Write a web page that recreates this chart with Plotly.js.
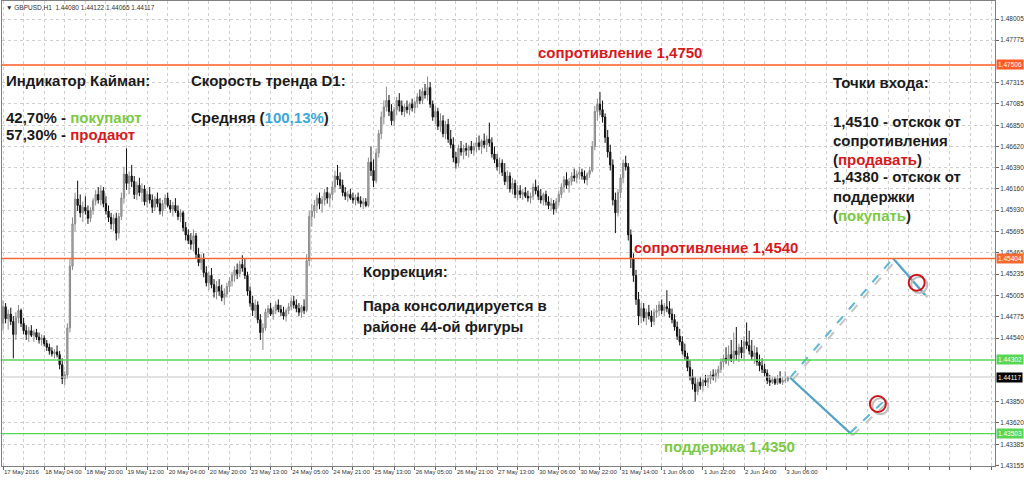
<!DOCTYPE html>
<html><head><meta charset="utf-8">
<script src="https://cdn.plot.ly/plotly-3.0.1.min.js"></script>
<style>html,body{margin:0;padding:0;background:#fff}#c{width:1024px;height:482px}</style>
</head><body><div id="c"></div>
<script>
// ---- DATA (GBPUSD H1) ----
const symbol = 'GBPUSD,H1';
const open = [
1.4470,1.4488,1.4475,1.4480,1.4472,1.4458,1.4476,1.4484,1.4470,1.4462,
1.4458,1.4462,1.4457,1.4460,1.4455,1.4452,1.4454,1.4448,1.4444,1.4440,
1.4437,1.4439,1.4436,1.4425,1.4410,1.4414,1.4465,1.4532,1.4578,1.4605,
1.4598,1.4590,1.4596,1.4592,1.4584,1.4593,1.4603,1.4610,1.4604,1.4614,
1.4600,1.4592,1.4585,1.4578,1.4584,1.4568,1.4586,1.4606,1.4632,1.4622,
1.4630,1.4624,1.4610,1.4620,1.4612,1.4616,1.4602,1.4610,1.4604,1.4596,
1.4605,1.4600,1.4592,1.4600,1.4606,1.4598,1.4594,1.4598,1.4592,1.4586,
1.4590,1.4574,1.4566,1.4560,1.4556,1.4565,1.4545,1.4536,1.4540,1.4525,
1.4514,1.4522,1.4512,1.4504,1.4510,1.4505,1.4498,1.4502,1.4510,1.4516,
1.4522,1.4528,1.4524,1.4534,1.4530,1.4522,1.4505,1.4492,1.4484,1.4490,
1.4474,1.4460,1.4465,1.4482,1.4486,1.4480,1.4484,1.4490,1.4485,1.4482,
1.4478,1.4484,1.4488,1.4494,1.4490,1.4486,1.4482,1.4488,1.4484,1.4538,
1.4586,1.4592,1.4598,1.4606,1.4600,1.4604,1.4612,1.4606,1.4610,1.4618,
1.4630,1.4626,1.4620,1.4612,1.4608,1.4610,1.4606,1.4604,1.4607,1.4603,
1.4600,1.4602,1.4598,1.4645,1.4636,1.4625,1.4655,1.4676,1.4694,1.4705,
1.4712,1.4700,1.4690,1.4702,1.4712,1.4706,1.4700,1.4705,1.4702,1.4708,
1.4704,1.4710,1.4716,1.4712,1.4722,1.4718,1.4726,1.4708,1.4694,1.4700,
1.4684,1.4690,1.4676,1.4686,1.4670,1.4664,1.4650,1.4644,1.4660,1.4656,
1.4660,1.4658,1.4662,1.4658,1.4662,1.4666,1.4662,1.4668,1.4664,1.4670,
1.4666,1.4654,1.4648,1.4640,1.4644,1.4634,1.4624,1.4630,1.4616,1.4622,
1.4610,1.4614,1.4610,1.4612,1.4608,1.4606,1.4608,1.4618,1.4614,1.4608,
1.4604,1.4610,1.4602,1.4598,1.4600,1.4594,1.4602,1.4610,1.4618,1.4626,
1.4620,1.4624,1.4630,1.4628,1.4632,1.4634,1.4630,1.4626,1.4632,1.4636,
1.4662,1.4700,1.4708,1.4702,1.4694,1.4672,1.4656,1.4642,1.4604,1.4590,
1.4612,1.4628,1.4644,1.4640,1.4566,1.4540,1.4522,1.4496,1.4478,1.4486,
1.4476,1.4482,1.4478,1.4472,1.4482,1.4484,1.4490,1.4484,1.4488,1.4486,
1.4480,1.4474,1.4466,1.4456,1.4450,1.4440,1.4434,1.4422,1.4412,1.4404,
1.4396,1.4406,1.4402,1.4408,1.4406,1.4410,1.4414,1.4412,1.4416,1.4420,
1.4428,1.4432,1.4430,1.4436,1.4432,1.4440,1.4436,1.4444,1.4438,1.4450,
1.4446,1.4440,1.4434,1.4438,1.4428,1.4424,1.4420,1.4416,1.4408,1.4406,
1.4409,1.4405,1.4410,1.4406,1.4408,1.44080];
const high = [
1.4495,1.4492,1.4485,1.4487,1.4478,1.4482,1.4490,1.4486,1.4476,1.4468,
1.4466,1.4468,1.4463,1.4464,1.4460,1.4458,1.4457,1.4452,1.4448,1.4444,
1.4442,1.4446,1.4440,1.4432,1.4418,1.4470,1.4540,1.4585,1.4612,1.4625,
1.4610,1.4602,1.4608,1.4598,1.4596,1.4606,1.4615,1.4618,1.4620,1.4618,
1.4608,1.4598,1.4590,1.4588,1.4590,1.4590,1.4612,1.4640,1.4660,1.4635,
1.4642,1.4630,1.4624,1.4628,1.4622,1.4620,1.4614,1.4618,1.4610,1.4608,
1.4612,1.4606,1.4604,1.4610,1.4612,1.4604,1.4602,1.4606,1.4598,1.4594,
1.4592,1.4580,1.4572,1.4568,1.4572,1.4568,1.4552,1.4545,1.4546,1.4532,
1.4526,1.4530,1.4518,1.4516,1.4518,1.4512,1.4508,1.4514,1.4520,1.4526,
1.4532,1.4535,1.4538,1.4544,1.4540,1.4526,1.4510,1.4500,1.4496,1.4494,
1.4480,1.4470,1.4486,1.4490,1.4492,1.4488,1.4494,1.4496,1.4490,1.4488,
1.4486,1.4492,1.4498,1.4500,1.4496,1.4492,1.4490,1.4496,1.4545,1.4592,
1.4600,1.4604,1.4610,1.4612,1.4608,1.4616,1.4618,1.4612,1.4624,1.4636,
1.4642,1.4634,1.4626,1.4618,1.4614,1.4616,1.4612,1.4610,1.4612,1.4608,
1.4606,1.4606,1.4650,1.4662,1.4648,1.4660,1.4680,1.4700,1.4712,1.4727,
1.4718,1.4708,1.4705,1.4716,1.4720,1.4712,1.4708,1.4712,1.4710,1.4714,
1.4712,1.4720,1.4724,1.4726,1.4730,1.4738,1.4732,1.4712,1.4706,1.4704,
1.4698,1.4696,1.4690,1.4692,1.4680,1.4672,1.4656,1.4664,1.4668,1.4664,
1.4666,1.4664,1.4668,1.4666,1.4672,1.4674,1.4670,1.4676,1.4674,1.4688,
1.4672,1.4662,1.4654,1.4650,1.4648,1.4644,1.4636,1.4634,1.4628,1.4626,
1.4620,1.4620,1.4616,1.4618,1.4614,1.4612,1.4622,1.4626,1.4620,1.4616,
1.4612,1.4614,1.4608,1.4606,1.4604,1.4606,1.4614,1.4622,1.4630,1.4634,
1.4628,1.4634,1.4638,1.4636,1.4640,1.4638,1.4636,1.4634,1.4640,1.4668,
1.4706,1.4714,1.4721,1.4712,1.4698,1.4680,1.4664,1.4648,1.4612,1.4616,
1.4632,1.4648,1.4652,1.4644,1.4572,1.4546,1.4528,1.4504,1.4492,1.4492,
1.4486,1.4490,1.4484,1.4486,1.4490,1.4494,1.4496,1.4492,1.4506,1.4494,
1.4486,1.4480,1.4472,1.4464,1.4456,1.4448,1.4438,1.4430,1.4420,1.4412,
1.4410,1.4412,1.4410,1.4414,1.4414,1.4418,1.4420,1.4420,1.4424,1.4432,
1.4436,1.4444,1.4446,1.4452,1.4460,1.4466,1.4448,1.4452,1.4456,1.4471,
1.4462,1.4452,1.4446,1.4444,1.4436,1.4432,1.4426,1.4420,1.4414,1.4412,
1.4412,1.4414,1.4418,1.4412,1.4418,1.44122];
const low = [
1.4462,1.4470,1.4463,1.4468,1.4432,1.4452,1.4470,1.4466,1.4458,1.4452,
1.4450,1.4455,1.4450,1.4452,1.4448,1.4446,1.4445,1.4440,1.4436,1.4434,
1.4432,1.4433,1.4420,1.4404,1.4403,1.4410,1.4460,1.4528,1.4570,1.4592,
1.4585,1.4580,1.4588,1.4578,1.4580,1.4588,1.4598,1.4600,1.4598,1.4596,
1.4588,1.4580,1.4572,1.4570,1.4560,1.4562,1.4582,1.4600,1.4615,1.4610,
1.4618,1.4605,1.4604,1.4608,1.4602,1.4598,1.4596,1.4600,1.4590,1.4592,
1.4596,1.4588,1.4586,1.4594,1.4596,1.4590,1.4586,1.4590,1.4582,1.4580,
1.4570,1.4560,1.4556,1.4550,1.4548,1.4540,1.4532,1.4528,1.4520,1.4510,
1.4506,1.4508,1.4498,1.4496,1.4500,1.4494,1.4490,1.4498,1.4504,1.4510,
1.4515,1.4518,1.4520,1.4526,1.4518,1.4500,1.4488,1.4478,1.4476,1.4470,
1.4452,1.4441,1.4462,1.4476,1.4478,1.4474,1.4480,1.4482,1.4478,1.4474,
1.4472,1.4480,1.4484,1.4486,1.4482,1.4478,1.4476,1.4480,1.4482,1.4532,
1.4575,1.4584,1.4590,1.4594,1.4590,1.4598,1.4600,1.4596,1.4604,1.4612,
1.4620,1.4616,1.4608,1.4604,1.4602,1.4604,1.4600,1.4598,1.4600,1.4596,
1.4594,1.4596,1.4596,1.4630,1.4618,1.4622,1.4650,1.4670,1.4686,1.4700,
1.4695,1.4685,1.4684,1.4696,1.4700,1.4696,1.4694,1.4698,1.4696,1.4700,
1.4698,1.4704,1.4708,1.4708,1.4714,1.4712,1.4704,1.4690,1.4686,1.4680,
1.4678,1.4672,1.4670,1.4666,1.4660,1.4645,1.4638,1.4640,1.4652,1.4648,
1.4652,1.4650,1.4654,1.4652,1.4656,1.4658,1.4654,1.4660,1.4656,1.4662,
1.4650,1.4644,1.4636,1.4632,1.4630,1.4620,1.4616,1.4612,1.4610,1.4606,
1.4604,1.4606,1.4604,1.4606,1.4602,1.4600,1.4604,1.4610,1.4604,1.4600,
1.4598,1.4598,1.4594,1.4592,1.4588,1.4590,1.4598,1.4606,1.4612,1.4616,
1.4612,1.4620,1.4624,1.4622,1.4626,1.4626,1.4622,1.4620,1.4628,1.4634,
1.4658,1.4690,1.4696,1.4688,1.4666,1.4650,1.4636,1.4598,1.4568,1.4586,
1.4606,1.4622,1.4636,1.4560,1.4530,1.4515,1.4490,1.4468,1.4470,1.4472,
1.4468,1.4474,1.4466,1.4468,1.4476,1.4478,1.4480,1.4478,1.4482,1.4476,
1.4470,1.4462,1.4452,1.4446,1.4436,1.4430,1.4418,1.4408,1.4398,1.4385,
1.4392,1.4398,1.4396,1.4402,1.4400,1.4404,1.4408,1.4406,1.4410,1.4416,
1.4422,1.4426,1.4424,1.4428,1.4426,1.4430,1.4428,1.4432,1.4430,1.4442,
1.4436,1.4430,1.4426,1.4424,1.4418,1.4416,1.4412,1.4404,1.4402,1.4404,
1.4403,1.4403,1.4404,1.4403,1.4405,1.44065];
const close = [
1.4488,1.4475,1.4480,1.4472,1.4458,1.4476,1.4484,1.4470,1.4462,1.4458,
1.4462,1.4457,1.4460,1.4455,1.4452,1.4454,1.4448,1.4444,1.4440,1.4437,
1.4439,1.4436,1.4425,1.4410,1.4414,1.4465,1.4532,1.4578,1.4605,1.4598,
1.4590,1.4596,1.4592,1.4584,1.4593,1.4603,1.4610,1.4604,1.4614,1.4600,
1.4592,1.4585,1.4578,1.4584,1.4568,1.4586,1.4606,1.4632,1.4622,1.4630,
1.4624,1.4610,1.4620,1.4612,1.4616,1.4602,1.4610,1.4604,1.4596,1.4605,
1.4600,1.4592,1.4600,1.4606,1.4598,1.4594,1.4598,1.4592,1.4586,1.4590,
1.4574,1.4566,1.4560,1.4556,1.4565,1.4545,1.4536,1.4540,1.4525,1.4514,
1.4522,1.4512,1.4504,1.4510,1.4505,1.4498,1.4502,1.4510,1.4516,1.4522,
1.4528,1.4524,1.4534,1.4530,1.4522,1.4505,1.4492,1.4484,1.4490,1.4474,
1.4460,1.4465,1.4482,1.4486,1.4480,1.4484,1.4490,1.4485,1.4482,1.4478,
1.4484,1.4488,1.4494,1.4490,1.4486,1.4482,1.4488,1.4484,1.4538,1.4586,
1.4592,1.4598,1.4606,1.4600,1.4604,1.4612,1.4606,1.4610,1.4618,1.4630,
1.4626,1.4620,1.4612,1.4608,1.4610,1.4606,1.4604,1.4607,1.4603,1.4600,
1.4602,1.4598,1.4645,1.4636,1.4625,1.4655,1.4676,1.4694,1.4705,1.4712,
1.4700,1.4690,1.4702,1.4712,1.4706,1.4700,1.4705,1.4702,1.4708,1.4704,
1.4710,1.4716,1.4712,1.4722,1.4718,1.4726,1.4708,1.4694,1.4700,1.4684,
1.4690,1.4676,1.4686,1.4670,1.4664,1.4650,1.4644,1.4660,1.4656,1.4660,
1.4658,1.4662,1.4658,1.4662,1.4666,1.4662,1.4668,1.4664,1.4670,1.4666,
1.4654,1.4648,1.4640,1.4644,1.4634,1.4624,1.4630,1.4616,1.4622,1.4610,
1.4614,1.4610,1.4612,1.4608,1.4606,1.4608,1.4618,1.4614,1.4608,1.4604,
1.4610,1.4602,1.4598,1.4600,1.4594,1.4602,1.4610,1.4618,1.4626,1.4620,
1.4624,1.4630,1.4628,1.4632,1.4634,1.4630,1.4626,1.4632,1.4636,1.4662,
1.4700,1.4708,1.4702,1.4694,1.4672,1.4656,1.4642,1.4604,1.4590,1.4612,
1.4628,1.4644,1.4640,1.4566,1.4540,1.4522,1.4496,1.4478,1.4486,1.4476,
1.4482,1.4478,1.4472,1.4482,1.4484,1.4490,1.4484,1.4488,1.4486,1.4480,
1.4474,1.4466,1.4456,1.4450,1.4440,1.4434,1.4422,1.4412,1.4404,1.4396,
1.4406,1.4402,1.4408,1.4406,1.4410,1.4414,1.4412,1.4416,1.4420,1.4428,
1.4432,1.4430,1.4436,1.4432,1.4440,1.4436,1.4444,1.4438,1.4450,1.4446,
1.4440,1.4434,1.4438,1.4428,1.4424,1.4420,1.4416,1.4408,1.4406,1.4409,
1.4405,1.4410,1.4406,1.4408,1.4408,1.44117];

const timeLabels = ['17 May 2016','18 May 04:00','18 May 20:00','19 May 12:00','20 May 04:00',
  '20 May 20:00','23 May 13:00','24 May 05:00','24 May 21:00','25 May 13:00','26 May 05:00',
  '26 May 21:00','27 May 13:00','30 May 06:00','30 May 22:00','31 May 14:00','1 Jun 06:00',
  '1 Jun 22:00','2 Jun 14:00','3 Jun 06:00'];
const priceTicks = [1.48005,1.47775,1.47315,1.47085,1.46850,1.46620,1.46390,1.46160,
  1.45930,1.45695,1.45465,1.45235,1.45005,1.44775,1.44540,1.43850,1.43620,
  1.43385,1.43155];

// horizontal levels
const levelValues = [1.47506, 1.45404, 1.44302, 1.43503];
const levelColors = ['#ff5a23', '#f4692f', '#55d655', '#55d655'];

// projection paths (bar index, price)
const upX = [305.9, 345.9, 358.3];
const upY = [1.44110, 1.45406, 1.45008];
const dnX = [305.9, 329.2, 342.8];
const dnY = [1.44110, 1.43509, 1.43867];
const entryX = [355.1, 340.0];
const entryY = [1.45141, 1.43824];

// ---- BUILD ----
const FONT = 'Liberation Sans, Arial, sans-serif';
const idx = close.map((_, i) => i);
const last = close.length - 1;
const L = 2, R = 995, T = 1, B = 466;
const px = (x) => (x - L) / (R - L);
const py = (y) => 1 - (y - T) / (B - T);

const tickvals = [], ticktext = [];
for (let k = 0; k * 8 <= 385; k++) {
  tickvals.push(k * 8);
  ticktext.push(k % 2 === 0 && timeLabels[k / 2] ? timeLabels[k / 2] : '');
}

const SDX = 1.0, SDY = -0.00025;
const traces = [];
traces.push({
  type: 'candlestick', x: idx, open, high, low, close,
  increasing: {line: {color: '#8a8a8a', width: 1}, fillcolor: '#b0b0b0'},
  decreasing: {line: {color: '#111111', width: 1}, fillcolor: '#111111'},
  whiskerwidth: 0, hoverinfo: 'skip', showlegend: false
});
function seg(xs, ys, i, color, dash, shadow) {
  return {type: 'scatter', mode: 'lines', hoverinfo: 'skip', showlegend: false,
    x: [xs[i] + (shadow ? SDX : 0), xs[i + 1] + (shadow ? SDX : 0)],
    y: [ys[i] + (shadow ? SDY : 0), ys[i + 1] + (shadow ? SDY : 0)],
    line: {color: color, width: 2, dash: dash}};
}
traces.push(seg(upX, upY, 0, '#c4c4c4', 'dash', true));
traces.push(seg(upX, upY, 1, '#c4c4c4', 'solid', true));
traces.push(seg(dnX, dnY, 0, '#c4c4c4', 'solid', true));
traces.push(seg(dnX, dnY, 1, '#c4c4c4', 'dash', true));
traces.push(seg(upX, upY, 0, '#5ab6dc', 'dash', false));
traces.push(seg(upX, upY, 1, '#4da3c8', 'solid', false));
traces.push(seg(dnX, dnY, 0, '#4da3c8', 'solid', false));
traces.push(seg(dnX, dnY, 1, '#5ab6dc', 'dash', false));
traces.push({type: 'scatter', mode: 'markers', hoverinfo: 'skip', showlegend: false,
  x: entryX.map(v => v + SDX), y: entryY.map(v => v + SDY),
  marker: {symbol: 'circle-open', size: 16, color: '#bdbdbd', line: {width: 2, color: '#bdbdbd'}}});
traces.push({type: 'scatter', mode: 'markers', hoverinfo: 'skip', showlegend: false,
  x: entryX, y: entryY,
  marker: {symbol: 'circle-open', size: 16, color: '#d0121a', line: {width: 2, color: '#d0121a'}}});

const shapes = [];
shapes.push({type: 'line', xref: 'paper', x0: 0, x1: 1, yref: 'y', y0: close[last], y1: close[last],
  line: {color: '#c4c4c4', width: 1}, layer: 'above'});
levelValues.forEach((v, i) => shapes.push({type: 'line', xref: 'paper', x0: 0, x1: 1, yref: 'y',
  y0: v, y1: v, line: {color: levelColors[i], width: i < 2 ? 1.5 : 1.3}, layer: 'above'}));

const RED = '#d7191c', GREEN = '#7cc943', BLUE = '#3aa8d6', INK = '#1b1b1b';
const ann = [];
function txt(x, y, text, color) {
  ann.push({xref: 'paper', yref: 'paper', x: px(x), y: py(y), xanchor: 'left', yanchor: 'middle',
    showarrow: false, text: '<b>' + text + '</b>', font: {family: FONT, size: 15, color: color || INK}});
}
const c = (col, s) => '<span style="color:' + col + '">' + s + '</span>';
txt(4, 80, 'Индикатор Кайман:');
txt(4, 117, '42,70% - ' + c(GREEN, 'покупают'));
txt(4, 135, '57,30% - ' + c(RED, 'продают'));
txt(189, 80, 'Скорость тренда D1:');
txt(189, 117, 'Средняя (' + c(BLUE, '100,13%') + ')');
txt(536, 53, 'сопротивление 1,4750', RED);
txt(632, 247, 'сопротивление 1,4540', RED);
txt(662, 446, 'поддержка 1,4350', GREEN);
txt(361, 271, 'Коррекция:');
txt(361, 305, 'Пара консолидируется в');
txt(361, 326, 'районе 44-ой фигуры');
txt(831, 83, 'Точки входа:');
txt(831, 121, '1,4510 - отскок от');
txt(831, 140, 'сопротивления');
txt(831, 159, '(' + c(RED, 'продавать') + ')');
txt(831, 177, '1,4380 - отскок от');
txt(831, 196, 'поддержки');
txt(831, 215, '(' + c(GREEN, 'покупать') + ')');

// header
ann.push({xref: 'paper', yref: 'paper', x: px(4), y: py(7), xanchor: 'left', yanchor: 'middle', showarrow: false,
  text: '▼ ' + symbol + '  ' + [open[last], high[last], low[last], close[last]].map(v => v.toFixed(5)).join(' '),
  font: {family: FONT, size: 6.5, color: '#333'}});

// price tags on the right axis
const tagVals = levelValues.concat([close[last]]);
const tagCols = levelColors.concat(['#000000']);
tagVals.forEach((v, i) => ann.push({xref: 'paper', yref: 'y', x: 1, xshift: 1, y: v, xanchor: 'left', yanchor: 'middle',
  showarrow: false, text: v.toFixed(5), bgcolor: tagCols[i], borderpad: 1,
  font: {family: FONT, size: 6.5, color: '#ffffff'}}));

const layout = {
  width: 1024, height: 482,
  margin: {l: L, r: 1024 - R, t: T, b: 482 - B, pad: 0},
  paper_bgcolor: '#ffffff', plot_bgcolor: '#ffffff',
  showlegend: false, dragmode: false, hovermode: false,
  xaxis: {range: [-0.4, (R - L) / 2.573 - 0.4], tickmode: 'array', tickvals, ticktext, tickangle: 0,
    ticks: 'outside', ticklen: 3, tickcolor: '#666', ticklabelposition: 'outside right',
    tickfont: {family: FONT, size: 6, color: '#333'},
    showgrid: true, gridcolor: '#cfcfcf', griddash: 'dot', gridwidth: 1,
    showline: true, linecolor: '#808080', linewidth: 1, mirror: true, zeroline: false,
    rangeslider: {visible: false}, fixedrange: true},
  yaxis: {side: 'right', range: [1.48005 - (B - 19) * 0.0001086, 1.48005 + (19 - T) * 0.0001086],
    tickmode: 'array', tickvals: priceTicks, tickformat: '.5f',
    ticks: 'outside', ticklen: 3, tickcolor: '#666',
    tickfont: {family: FONT, size: 6.5, color: '#333'},
    showgrid: true, gridcolor: '#cfcfcf', griddash: 'dot', gridwidth: 1,
    showline: true, linecolor: '#808080', linewidth: 1, mirror: true, zeroline: false, fixedrange: true},
  shapes, annotations: ann
};
Plotly.newPlot('c', traces, layout, {staticPlot: true, displayModeBar: false});
</script></body></html>
